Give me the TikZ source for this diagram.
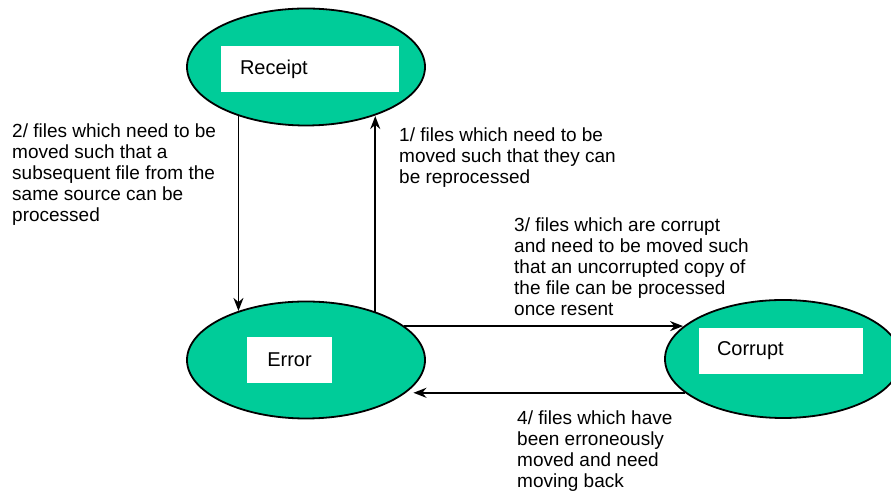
\documentclass[tikz,border=0pt]{standalone}
\usepackage{fontspec}
\setmainfont{Liberation Sans}
\usetikzlibrary{shapes.geometric,arrows.meta}
\definecolor{statefill}{RGB}{0,204,153}
\tikzset{
	state/.style={ellipse, draw, fill=statefill, line width=1.8pt, inner sep=0pt, minimum width=238pt, minimum height=117pt},
	namebox/.style={fill=white, inner ysep=0pt, minimum height=46pt, font=\fontsize{20}{22}\selectfont},
	note/.style={anchor=north west, align=left, inner sep=0pt}
}
\begin{document}
\begin{tikzpicture}[x=1pt, y=1pt, font=\fontsize{19}{21}\selectfont, line join=round, >={Stealth[length=13pt,width=10pt]}]
				\useasboundingbox (0,0) rectangle (891,494);
				\clip (0,0) rectangle (891,494);

				\node[state] (Receipt) at (306,427) {};
				\node[state] (Error) at (306,134) {};
				\node[state, minimum width=236pt, minimum height=118pt] (Corrupt) at (783,135) {};

				\node[namebox, text width=140pt, inner xsep=19pt, align=left] (ReceiptBox) at (310,425) {Receipt};
				\node[namebox, text width=85pt, inner xsep=0pt, align=center] (ErrorBox) at (289.5,134) {Error};
				\node[namebox, text width=128pt, inner xsep=18pt, align=left] (CorruptBox) at (781,143) {Corrupt};

				\draw[line width=1.8pt, ->] (Receipt.216)--(Receipt.216 |- Error.144);
				\draw[line width=1.8pt, ->] (Error.35)--(Error.35 |- Receipt.-36);
				\draw[line width=1.8pt, ->] (Error.19)--(Error.19 -| Corrupt.162);
				\draw[line width=1.8pt, ->, shorten >=9pt] (Corrupt.199)--(Corrupt.199 -| Error.-19);

				\node[note] (NoteTwo) at (12,370) {2/ files which need to be\\moved such that a\\subsequent file from the\\same source can be\\processed};
				\node[note] (NoteOne) at (399,366) {1/ files which need to be\\moved such that they can\\be reprocessed};
				\node[note] (NoteThree) at (514,276) {3/ files which are corrupt\\and need to be moved such\\that an uncorrupted copy of\\the file can be processed\\once resent};
				\node[note] (NoteFour) at (517,83) {4/ files which have\\been erroneously\\moved and need\\moving back};
			\end{tikzpicture}
\end{document}
